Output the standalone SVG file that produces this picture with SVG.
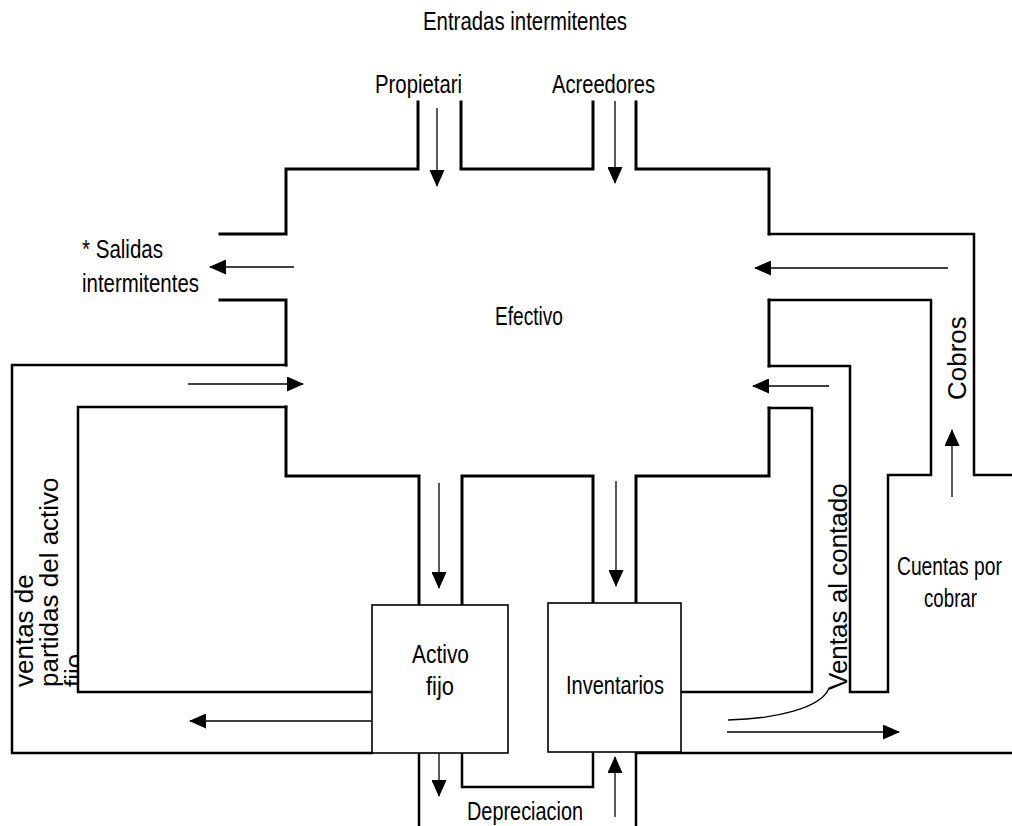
<svg xmlns="http://www.w3.org/2000/svg" width="1012" height="826" viewBox="0 0 1012 826">
  <style>
    .wall { fill: none; stroke: #000; stroke-width: 3; stroke-linejoin: miter; stroke-linecap: square; }
    .duct { fill: none; stroke: #000; stroke-width: 2.5; stroke-linejoin: miter; stroke-linecap: square; }
    .box { fill: #fff; stroke: #000; stroke-width: 1.6; }
    .flow { fill: none; stroke: #000; stroke-width: 1.3; }
    .lbl { font-family: "Liberation Sans", Arial, sans-serif; font-size: 25px; fill: #000; }
    .vlbl { font-family: "Liberation Sans", Arial, sans-serif; font-size: 26px; fill: #000; }
  </style>
  <defs>
    <marker id="head" markerUnits="userSpaceOnUse" markerWidth="17" markerHeight="15" refX="16" refY="7.5" orient="auto">
      <path d="M0,0 L17,7.5 L0,15 Z" fill="#000"/>
    </marker>
    <clipPath id="leftColumn">
      <rect x="0" y="400" width="77" height="300"/>
    </clipPath>
  </defs>
  <rect width="1012" height="826" fill="#fff"/>

  <!-- Cash reservoir (Efectivo) with its inlet and outlet openings -->
  <g id="efectivo">
    <path class="wall" d="M418,102 V169 H286 V234 H220"/>
    <path class="wall" d="M461,102 V169 H593 V102"/>
    <path class="wall" d="M636,102 V169 H769 V234"/>
    <path class="wall" d="M220,300 H286 V365"/>
    <path class="wall" d="M286,407 V476 H419 V605"/>
    <path class="wall" d="M462,605 V476 H593 V603"/>
    <path class="wall" d="M636,603 V476 H769 V408"/>
    <path class="wall" d="M769,366 V300"/>
    <text class="lbl" x="495" y="325" textLength="68" lengthAdjust="spacingAndGlyphs">Efectivo</text>
  </g>

  <!-- Outer channels -->
  <g id="channels">
    <!-- receivables collection loop -->
    <path class="duct" d="M769,234 H974 V475 H1012"/>
    <path class="duct" d="M769,300 H931 V475 H888 V692 H850 V366 H769"/>
    <!-- cash sales loop -->
    <path class="duct" d="M769,408 H812 V692 H681"/>
    <!-- fixed asset sales loop -->
    <path class="duct" d="M286,365 H12 V753 H372"/>
    <path class="duct" d="M286,407 H78 V692 H372"/>
    <!-- sales to receivables -->
    <path class="duct" d="M636,753 H1012"/>
    <!-- depreciation channel -->
    <path class="duct" d="M419,753 V826"/>
    <path class="duct" d="M462,753 V787 H593 V752"/>
    <path class="duct" d="M636,752 V826"/>
  </g>

  <g id="activo-fijo">
    <rect class="box" x="372" y="605" width="136" height="148"/>
    <text class="lbl" x="412" y="663" textLength="57" lengthAdjust="spacingAndGlyphs">Activo</text>
    <text class="lbl" x="426" y="695" textLength="28" lengthAdjust="spacingAndGlyphs">fijo</text>
  </g>

  <g id="inventarios">
    <rect class="box" x="548" y="603" width="133" height="149"/>
    <text class="lbl" x="566" y="694" textLength="98" lengthAdjust="spacingAndGlyphs">Inventarios</text>
  </g>

  <!-- Flow labels -->
  <g id="labels">
    <text class="lbl" x="423" y="30" textLength="204" lengthAdjust="spacingAndGlyphs">Entradas intermitentes</text>
    <text class="lbl" x="375" y="93" textLength="87" lengthAdjust="spacingAndGlyphs">Propietari</text>
    <text class="lbl" x="552" y="93" textLength="103" lengthAdjust="spacingAndGlyphs">Acreedores</text>
    <text class="lbl" x="82" y="258" textLength="81" lengthAdjust="spacingAndGlyphs">* Salidas</text>
    <text class="lbl" x="82" y="292" textLength="117" lengthAdjust="spacingAndGlyphs">intermitentes</text>
    <text class="lbl" x="467" y="820" textLength="116" lengthAdjust="spacingAndGlyphs">Depreciacion</text>
    <text class="lbl" transform="translate(897,575) scale(0.77,1)">Cuentas por</text>
    <text class="lbl" x="924" y="607" textLength="53" lengthAdjust="spacingAndGlyphs">cobrar</text>
    <text class="vlbl" transform="translate(966,400) rotate(-90)">Cobros</text>
    <text class="vlbl" transform="translate(847,690) rotate(-90)">Ventas al contado</text>
    <g clip-path="url(#leftColumn)">
      <text class="vlbl" transform="translate(33,687) rotate(-90)">
        <tspan x="0" y="0">ventas de</tspan>
        <tspan x="0" y="25">partidas del activo</tspan>
        <tspan x="0" y="50">fijo</tspan>
      </text>
    </g>
  </g>

  <!-- Flow arrows -->
  <g id="connectors">
    <line class="flow" x1="437" y1="108" x2="437" y2="186" marker-end="url(#head)"/>
    <line class="flow" x1="615" y1="101" x2="615" y2="183" marker-end="url(#head)"/>
    <line class="flow" x1="294" y1="267" x2="210" y2="267" marker-end="url(#head)"/>
    <line class="flow" x1="948" y1="268" x2="755" y2="268" marker-end="url(#head)"/>
    <line class="flow" x1="188" y1="384" x2="303" y2="384" marker-end="url(#head)"/>
    <line class="flow" x1="829" y1="386" x2="753" y2="386" marker-end="url(#head)"/>
    <line class="flow" x1="439" y1="483" x2="439" y2="588" marker-end="url(#head)"/>
    <line class="flow" x1="616" y1="481" x2="616" y2="586" marker-end="url(#head)"/>
    <line class="flow" x1="371" y1="721" x2="190" y2="721" marker-end="url(#head)"/>
    <line class="flow" x1="439" y1="753" x2="439" y2="796" marker-end="url(#head)"/>
    <line class="flow" x1="615" y1="817" x2="615" y2="757" marker-end="url(#head)"/>
    <line class="flow" x1="952" y1="497" x2="952" y2="430" marker-end="url(#head)"/>
    <line class="flow" x1="727" y1="732" x2="899" y2="732" marker-end="url(#head)"/>
    <path class="flow" d="M728,720 C775,719 822,708 829,688"/>
  </g>
</svg>
